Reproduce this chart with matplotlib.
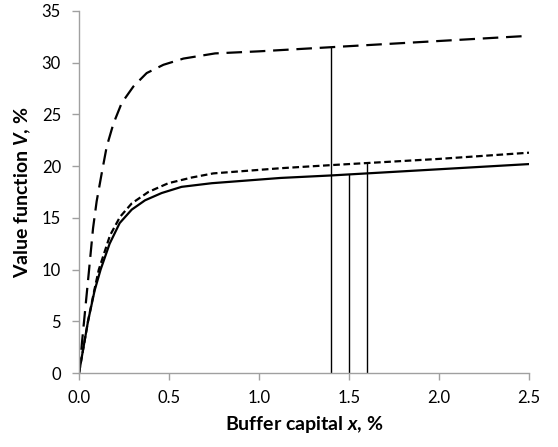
import matplotlib
matplotlib.use("Agg")
import matplotlib.pyplot as plt

plt.rcParams['font.family'] = ['Lato', 'DejaVu Sans']
plt.rcParams['mathtext.fontset'] = 'custom'
plt.rcParams['mathtext.bfit'] = 'Lato:bold:italic'
plt.rcParams['mathtext.rm'] = 'Lato:bold'

# curva con guiones largos
x_long = [0, 0.028, 0.056, 0.078, 0.098, 0.126, 0.154, 0.191, 0.237,
          0.302, 0.376, 0.469, 0.58, 0.756, 1.0, 1.4, 2.0, 2.5]
v_long = [0, 5.0, 10, 14.0, 16.6, 19.3, 21.9, 24.1, 26.1,
          27.7, 29.0, 29.8, 30.4, 30.9, 31.1, 31.5, 32.1, 32.6]

# curva solida
x_solid = [0, 0.025, 0.05, 0.087, 0.12, 0.17, 0.226, 0.293, 0.367, 0.459,
           0.57, 0.737, 1.12, 1.4, 2.0, 2.5]
v_solid = [0, 2.5, 5.0, 8.0, 10.0, 12.5, 14.5, 15.8, 16.7, 17.4,
           18.0, 18.35, 18.86, 19.1, 19.7, 20.2]

# curva con guiones cortos
x_short = [0, 0.025, 0.05, 0.085, 0.11, 0.172, 0.228, 0.293, 0.385, 0.496,
           0.626, 0.746, 1.12, 1.4, 1.6, 2.0, 2.5]
v_short = [0, 2.5, 5.0, 8.0, 10.0, 13.3, 15.1, 16.4, 17.5, 18.35,
           18.9, 19.3, 19.8, 20.1, 20.3, 20.7, 21.3]

# lineas verticales (umbrales)
x_vert = [1.4, 1.5, 1.6]
v_vert = [31.5, 19.2, 20.3]

fig = plt.figure(figsize=(5.58, 4.47), dpi=100)
ax = fig.add_axes([0.1416, 0.1655, 0.8064, 0.8099])

ax.plot(x_long, v_long, color='black', lw=1.6, dashes=(7, 3.5))
ax.plot(x_short, v_short, color='black', lw=1.6, dashes=(3, 1.6))
ax.plot(x_solid, v_solid, color='black', lw=1.6)
ax.vlines(x_vert, 0, v_vert, color='black', lw=1.0)

ax.set_xlim(0, 2.5)
ax.set_ylim(0, 35)
ax.set_xticks([0, 0.5, 1.0, 1.5, 2.0, 2.5])
ax.set_xticklabels(['0.0', '0.5', '1.0', '1.5', '2.0', '2.5'])
ax.set_yticks(range(0, 36, 5))

for s in ['top', 'right']:
    ax.spines[s].set_visible(False)
for s in ['left', 'bottom']:
    ax.spines[s].set_color('#a0a0a0')
    ax.spines[s].set_linewidth(1.0)
ax.tick_params(colors='#a0a0a0', length=5, width=1.0, labelsize=12,
               labelcolor='black')
ax.tick_params(axis='x', pad=7)
ax.tick_params(axis='y', pad=8)

ax.set_xlabel(r'Buffer capital $\mathbfit{x}$, %', fontsize=14, fontweight='bold',
              labelpad=6)
ax.set_ylabel(r'Value function $\mathbfit{V}$, %', fontsize=14, fontweight='bold',
              labelpad=6)

fig.savefig('out.png', dpi=100)
